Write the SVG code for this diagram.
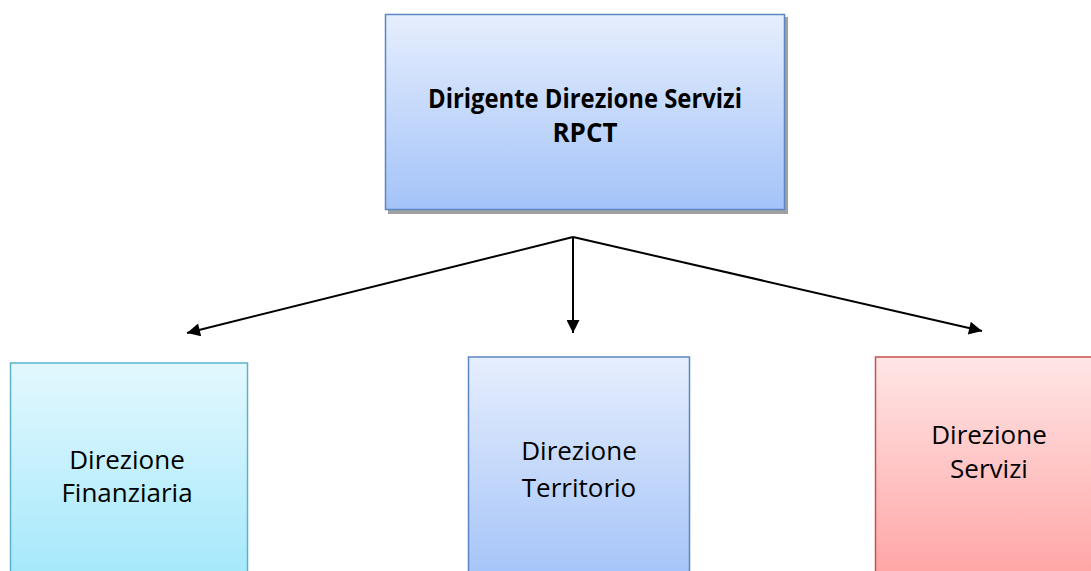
<svg xmlns="http://www.w3.org/2000/svg" width="1091" height="571" viewBox="0 0 1091 571">
<defs>
<linearGradient id="gBlue" x1="0" y1="0" x2="0" y2="1"><stop offset="0" stop-color="#e6eefd"/><stop offset="1" stop-color="#a3c3f8"/></linearGradient>
<linearGradient id="gCyan" x1="0" y1="0" x2="0" y2="1"><stop offset="0" stop-color="#e3f8fe"/><stop offset="1" stop-color="#a3e8fb"/></linearGradient>
<linearGradient id="gRed" x1="0" y1="0" x2="0" y2="1"><stop offset="0" stop-color="#ffe6e6"/><stop offset="1" stop-color="#ffa3a3"/></linearGradient>
<marker id="arr" viewBox="0 0 10 10" refX="10" refY="5" markerWidth="16" markerHeight="13" markerUnits="userSpaceOnUse" orient="auto"><path d="M0,0 L10,5 L0,10 z" fill="#000"/></marker>
</defs>
<style>
.t{font-family:"Open Sans","Liberation Sans",sans-serif;font-size:26px;fill:#000;text-anchor:middle}
.b{font-weight:bold;font-size:26px}
.c{stroke:#000;stroke-width:2;fill:none}
</style>
<rect width="1091" height="571" fill="#fff"/>
<g id="top">
<rect x="388" y="17" width="400" height="197" fill="#a0a0a0"/>
<rect x="385.5" y="14.5" width="399" height="195" fill="url(#gBlue)" stroke="#5b86c2" stroke-width="1.5"/>
<text class="t b" x="585" y="108" textLength="314" lengthAdjust="spacingAndGlyphs">Dirigente Direzione Servizi</text>
<text class="t b" x="585" y="142">RPCT</text>
</g>
<g id="connectors">
<line class="c" x1="573" y1="237" x2="187" y2="333" marker-end="url(#arr)"/>
<line class="c" x1="573" y1="237" x2="573" y2="333" marker-end="url(#arr)"/>
<line class="c" x1="573" y1="237" x2="982" y2="331" marker-end="url(#arr)"/>
</g>
<g id="fin">
<rect x="10.5" y="363" width="237" height="220" fill="url(#gCyan)" stroke="#5cb2cc" stroke-width="1.5"/>
<text class="t" x="127" y="469">Direzione</text>
<text class="t" x="127" y="502">Finanziaria</text>
</g>
<g id="terr">
<rect x="468.5" y="357" width="221" height="226" fill="url(#gBlue)" stroke="#5b86c2" stroke-width="1.5"/>
<text class="t" x="579" y="460">Direzione</text>
<text class="t" x="579" y="497">Territorio</text>
</g>
<g id="serv">
<rect x="875.5" y="357" width="230" height="226" fill="url(#gRed)" stroke="#c9504d" stroke-width="1.5"/>
<text class="t" x="989" y="444">Direzione</text>
<text class="t" x="989" y="478">Servizi</text>
</g>
</svg>
